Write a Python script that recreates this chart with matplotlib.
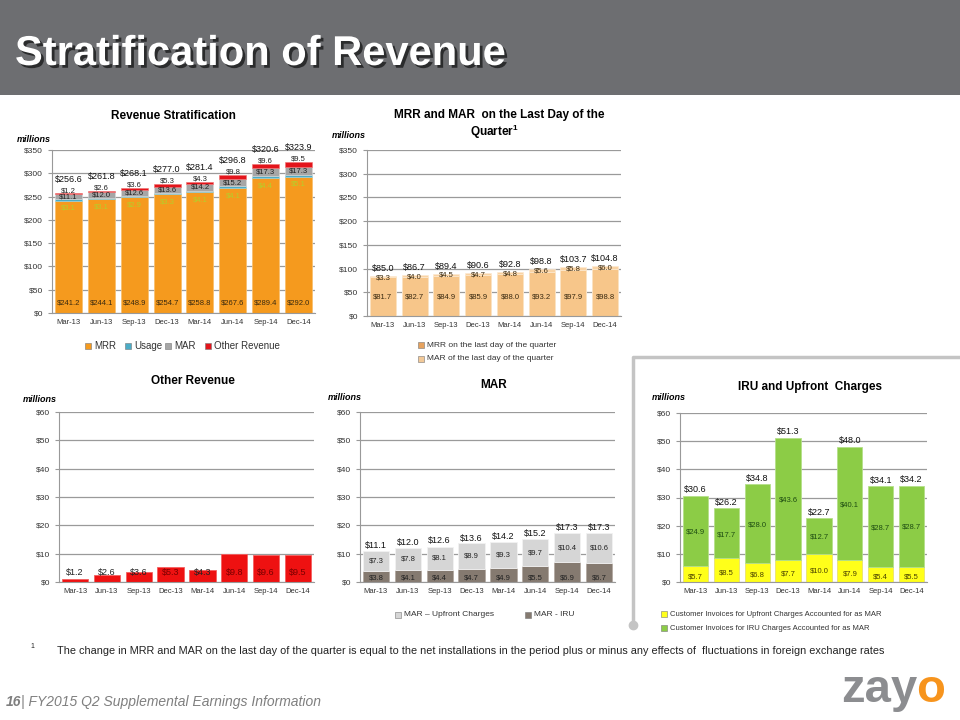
import numpy as np
import matplotlib
matplotlib.use("Agg")
import matplotlib.pyplot as plt
import matplotlib.patheffects as pe
from matplotlib.patches import Rectangle
from matplotlib.lines import Line2D
from matplotlib.ticker import FuncFormatter

W, H = 960, 720

quarters = ["Mar-13", "Jun-13", "Sep-13", "Dec-13", "Mar-14", "Jun-14", "Sep-14", "Dec-14"]

# Revenue stratification
strat_mrr = [241.2, 244.1, 248.9, 254.7, 258.8, 267.6, 289.4, 292.0]
strat_usage = [3.1, 3.1, 2.9, 3.3, 4.1, 4.1, 4.4, 5.1]
strat_mar = [11.1, 12.0, 12.6, 13.6, 14.2, 15.2, 17.3, 17.3]
strat_other = [1.2, 2.6, 3.6, 5.3, 4.3, 9.8, 9.6, 9.5]
strat_total = [256.6, 261.8, 268.1, 277.0, 281.4, 296.8, 320.6, 323.9]

# MRR and MAR on the last day of the quarter
last_mrr = [81.7, 82.7, 84.9, 85.9, 88.0, 93.2, 97.9, 98.8]
last_mar = [3.3, 4.0, 4.5, 4.7, 4.8, 5.6, 5.8, 6.0]
last_total = [85.0, 86.7, 89.4, 90.6, 92.8, 98.8, 103.7, 104.8]

# Other revenue
other_rev = [1.2, 2.6, 3.6, 5.3, 4.3, 9.8, 9.6, 9.5]

# MAR split
mar_iru = [3.8, 4.1, 4.4, 4.7, 4.9, 5.5, 6.9, 6.7]
mar_upfront = [7.3, 7.8, 8.1, 8.9, 9.3, 9.7, 10.4, 10.6]
mar_total = [11.1, 12.0, 12.6, 13.6, 14.2, 15.2, 17.3, 17.3]

# IRU and upfront charges
inv_upfront = [5.7, 8.5, 6.8, 7.7, 10.0, 7.9, 5.4, 5.5]
inv_iru = [24.9, 17.7, 28.0, 43.6, 12.7, 40.1, 28.7, 28.7]
inv_total = [30.6, 26.2, 34.8, 51.3, 22.7, 48.0, 34.1, 34.2]

FONT = ["Liberation Sans", "DejaVu Sans"]
plt.rcParams["font.family"] = FONT

fig = plt.figure(figsize=(W / 100, H / 100), dpi=100)
fig.patch.set_facecolor("white")


def box(l, t, r, b):
    return [l / W, 1 - b / H, (r - l) / W, (b - t) / H]


def ftext(x, y, s, **kw):
    return fig.text(x / W, 1 - y / H, s, **kw)


def setup(ax, ymax, step):
    ax.set_xlim(-0.5, 7.5)
    ax.set_ylim(0, ymax)
    ax.set_yticks(np.arange(0, ymax + 1, step))
    ax.yaxis.set_major_formatter(FuncFormatter(lambda v, p: f"${v:.0f}"))
    ax.set_xticks(np.arange(8))
    ax.set_xticklabels(quarters)
    ax.tick_params(axis="x", labelsize=5.5, length=0, pad=4, colors="#333333")
    ax.tick_params(axis="y", labelsize=6, length=3, color="#999999", colors="#333333")
    ax.grid(axis="y", color="#9a9a9a", lw=0.9)
    ax.set_axisbelow(True)
    for s in ("top", "right"):
        ax.spines[s].set_visible(False)
    for s in ("left", "bottom"):
        ax.spines[s].set_color("#999999")


def legend_item(x, y, color, label, size=6):
    fig.add_artist(Rectangle(((x - 3) / W, 1 - (y + 3) / H), 6 / W, 6 / H,
                             transform=fig.transFigure, facecolor=color,
                             edgecolor="#777777", lw=0.4))
    ftext(x + 6, y, label, fontsize=size, va="center", ha="left", color="#333333")


x = np.arange(8)
bw = 0.82

# header band
fig.add_artist(Rectangle((0, 1 - 95 / H), 1, 95 / H, transform=fig.transFigure,
                         facecolor="#6d6e71", edgecolor="none"))
ftext(15, 65, "Stratification of Revenue", fontsize=30, fontweight="bold", color="white",
      va="baseline", ha="left",
      path_effects=[pe.withSimplePatchShadow(offset=(2, -2), shadow_rgbFace="black", alpha=0.6)])

# 1. Revenue Stratification
ax1 = fig.add_axes(box(52, 150, 315, 313))
setup(ax1, 350, 50)
b1 = np.array(strat_mrr)
b2 = b1 + np.array(strat_usage)
b3 = b2 + np.array(strat_mar)
ax1.bar(x, strat_mrr, bw, color="#f59a1e", edgecolor="#f8c070", lw=0.6)
ax1.bar(x, strat_usage, bw, bottom=b1, color="#4bacc6", edgecolor="#9fd6e4", lw=0.4)
ax1.bar(x, strat_mar, bw, bottom=b2, color="#a6a6a6", edgecolor="#d9d9d9", lw=0.4)
ax1.bar(x, strat_other, bw, bottom=b3, color="#e3141b", edgecolor="#f07070", lw=0.4)
for i in range(8):
    ax1.text(x[i], 22, f"${strat_mrr[i]:.1f}", ha="center", va="center", fontsize=5.5, color="#3a2a10")
    ax1.text(x[i], strat_mrr[i] - 16, f"${strat_usage[i]:.1f}", ha="center", va="center", fontsize=5.5, color="#b5cf2a")
    ax1.text(x[i], b2[i] + strat_mar[i] / 2, f"${strat_mar[i]:.1f}", ha="center", va="center", fontsize=5.5, color="#222222")
    ax1.text(x[i], strat_total[i] + 6, f"${strat_other[i]:.1f}", ha="center", va="center", fontsize=5.5, color="#222222")
    ax1.text(x[i], strat_total[i] + 31, f"${strat_total[i]:.1f}", ha="center", va="center", fontsize=6.5, color="#111111")
ftext(173, 116, "Revenue Stratification", fontsize=8.5, fontweight="bold", ha="center", va="center")
ftext(17, 139, "millions", fontsize=6.5, fontweight="bold", style="italic", va="center")
legend_item(88, 346, "#f59a1e", "MRR", 7)
legend_item(128, 346, "#4bacc6", "Usage", 7)
legend_item(168, 346, "#a6a6a6", "MAR", 7)
legend_item(208, 346, "#e3141b", "Other Revenue", 7)

# 2. MRR and MAR on last day
ax2 = fig.add_axes(box(367, 150, 621, 316))
setup(ax2, 350, 50)
ax2.bar(x, last_mrr, bw, color="#f7c68a", edgecolor="#fbe2c2", lw=0.7)
ax2.bar(x, last_mar, bw, bottom=last_mrr, color="#f9d3a4", edgecolor="#fde9d0", lw=0.5)
for i in range(8):
    ax2.text(x[i], 41, f"${last_mrr[i]:.1f}", ha="center", va="center", fontsize=5.5, color="#3a2a10")
    ax2.text(x[i], last_total[i] - 4, f"${last_mar[i]:.1f}", ha="center", va="center", fontsize=5.5, color="#3a2a10")
    ax2.text(x[i], last_total[i] + 16, f"${last_total[i]:.1f}", ha="center", va="center", fontsize=6.5, color="#111111")
ftext(499, 115, "MRR and MAR  on the Last Day of the", fontsize=8.5, fontweight="bold", ha="center", va="center")
ftext(494, 132, "Quarter$^{\\mathregular{1}}$", fontsize=8.5, fontweight="bold", ha="center", va="center")
ftext(332, 135, "millions", fontsize=6.5, fontweight="bold", style="italic", va="center")
legend_item(421, 345, "#e6a25e", "MRR on the last day of the quarter")
legend_item(421, 359, "#f2c998", "MAR of the last day of the quarter")

# 3. Other Revenue
ax3 = fig.add_axes(box(59, 412, 314, 582))
setup(ax3, 60, 10)
ax3.bar(x, other_rev, bw, color="#ee1111", edgecolor="#f46060", lw=0.6)
for i in range(8):
    col = "#7a0000" if other_rev[i] >= 5 else "#222222"
    ax3.text(x[i], 3.3, f"${other_rev[i]:.1f}", ha="center", va="center", fontsize=6.5, color=col)
ftext(193, 381, "Other Revenue", fontsize=8.5, fontweight="bold", ha="center", va="center")
ftext(23, 399, "millions", fontsize=6.5, fontweight="bold", style="italic", va="center")

# 4. MAR
ax4 = fig.add_axes(box(360, 412, 615, 582))
setup(ax4, 60, 10)
ax4.bar(x, mar_iru, bw, color="#857a70", edgecolor="#b3aaa2", lw=0.6)
ax4.bar(x, mar_upfront, bw, bottom=mar_iru, color="#d6d6d6", edgecolor="#f2f2f2", lw=0.6)
for i in range(8):
    ax4.text(x[i], 1.5, f"${mar_iru[i]:.1f}", ha="center", va="center", fontsize=5.5, color="#222222")
    ax4.text(x[i], mar_iru[i] + mar_upfront[i] / 2, f"${mar_upfront[i]:.1f}", ha="center", va="center", fontsize=5.5, color="#222222")
    ax4.text(x[i], mar_total[i] + 1.9, f"${mar_total[i]:.1f}", ha="center", va="center", fontsize=6.5, color="#111111")
ftext(494, 385, "MAR", fontsize=8.5, fontweight="bold", ha="center", va="center")
ftext(328, 398, "millions", fontsize=6.5, fontweight="bold", style="italic", va="center")
legend_item(398, 615, "#d6d6d6", "MAR \u2013 Upfront Charges")
legend_item(528, 615, "#857a70", "MAR - IRU")

# 5. IRU and Upfront Charges
ax5 = fig.add_axes(box(680, 413, 927, 582))
setup(ax5, 60, 10)
ax5.bar(x, inv_upfront, bw, color="#ffff1a", edgecolor="#e8e070", lw=0.6)
ax5.bar(x, inv_iru, bw, bottom=inv_upfront, color="#8ccc46", edgecolor="#b5e08a", lw=0.6)
for i in range(8):
    ax5.text(x[i], inv_upfront[i] / 2 - 1, f"${inv_upfront[i]:.1f}", ha="center", va="center", fontsize=5.5, color="#4a4200")
    ax5.text(x[i], inv_upfront[i] + inv_iru[i] / 2 - 0.5, f"${inv_iru[i]:.1f}", ha="center", va="center", fontsize=5.5, color="#1e4d12")
    ax5.text(x[i], inv_total[i] + 2.1, f"${inv_total[i]:.1f}", ha="center", va="center", fontsize=6.5, color="#111111")
ftext(810, 387, "IRU and Upfront  Charges", fontsize=8.5, fontweight="bold", ha="center", va="center")
ftext(652, 398, "millions", fontsize=6.5, fontweight="bold", style="italic", va="center")
legend_item(664, 614, "#ffff1a", "Customer Invoices for Upfront Charges Accounted for as MAR", 5.5)
legend_item(664, 628, "#8ccc46", "Customer Invoices for IRU Charges Accounted for as MAR", 5.5)

# bracket around IRU panel
fig.add_artist(Line2D([633 / W, 633 / W, 960 / W], [1 - 625 / H, 1 - 357 / H, 1 - 357 / H],
                      transform=fig.transFigure, color="#c4c4c4", lw=2.5))
fig.add_artist(Line2D([633 / W], [1 - 625 / H], transform=fig.transFigure, marker="o",
                      markersize=6, color="#c4c4c4"))

# footnote
ftext(30, 647, "1", fontsize=5, va="center", color="#222222")
ftext(57, 651, "The change in MRR and MAR on the last day of the quarter is equal to the net installations "
      "in the period plus or minus any effects of  fluctuations in foreign exchange rates",
      fontsize=7.8, va="center", color="#222222")

# footer
ftext(6, 702, "16", fontsize=10, fontweight="bold", style="italic", color="#7f7f7f", va="center")
ftext(21, 702, "| FY2015 Q2 Supplemental Earnings Information", fontsize=10, style="italic",
      color="#7f7f7f", va="center")
ftext(917, 702, "zay", fontsize=34, fontweight="bold", color="#8c8d90", ha="right", va="baseline")
ftext(916, 702, "o", fontsize=34, fontweight="bold", color="#f7941d", ha="left", va="baseline")

fig.savefig("out.png", dpi=100)
